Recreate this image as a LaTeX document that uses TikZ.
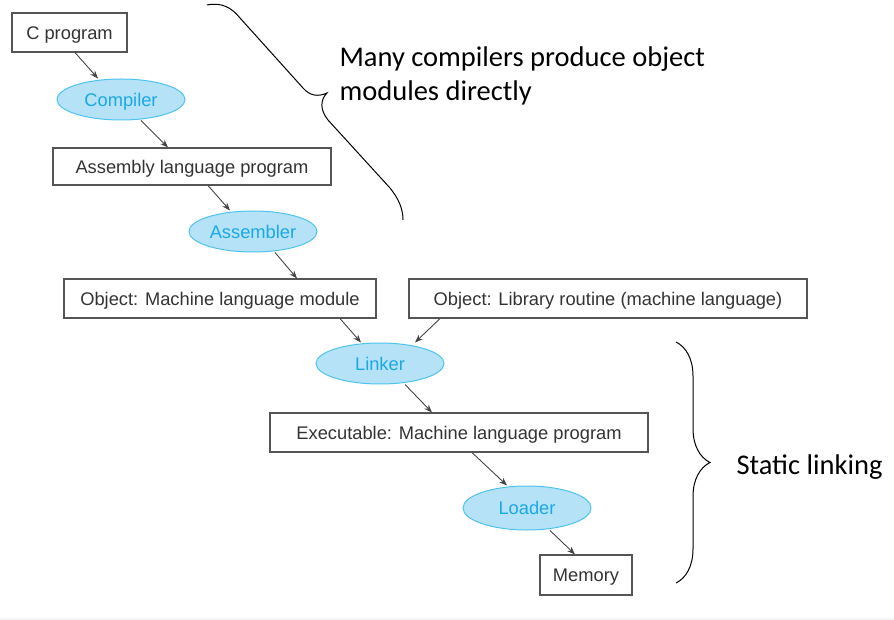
\documentclass[tikz,border=0pt]{standalone}
\usepackage{fontspec}
\setmainfont{Liberation Sans}
\newfontfamily\notefont{Carlito}
\usetikzlibrary{arrows.meta,shapes.geometric,decorations.pathreplacing}
\definecolor{boxline}{HTML}{555555}
\definecolor{boxtext}{HTML}{333333}
\definecolor{stepfill}{HTML}{B5E2F7}
\definecolor{stepline}{HTML}{4FC3F0}
\definecolor{steptext}{HTML}{1BA8E6}
\definecolor{arrowcol}{HTML}{444444}

\begin{document}
\begin{tikzpicture}[x=1pt,y=-1pt,
  every edge/.style={draw,arrowcol,line width=0.9pt,-{Stealth[length=8pt,width=6pt]}},
  file node/.style={draw=boxline,line width=1.1pt,text=boxtext,inner sep=0pt,
    text height=13.1pt,text depth=0pt,font=\fontsize{18.3}{22}\selectfont},
  tool node/.style={draw=stepline,fill=stepfill,line width=1pt,ellipse,inner sep=0pt,
    text height=13.1pt,text depth=0pt,
    minimum width=128pt,minimum height=41pt,text=steptext,font=\fontsize{18.3}{22}\selectfont},
  note/.style={anchor=west,align=left,font=\notefont\fontsize{28.5}{34}\selectfont}]
\useasboundingbox (0,0) rectangle (894,620);
\fill[black!4] (0,618) rectangle (894,620);

\node[file node,minimum width=115pt,minimum height=39pt] (cprog) at (69.5,32.5) {C program};
\node[tool node] (comp) at (121,99.5) {Compiler};
\node[file node,minimum width=278pt,minimum height=37pt] (asm) at (192,166.5) {Assembly language program};
\node[tool node] (asmr) at (253,231.5) {Assembler};
\node[file node,minimum width=312pt,minimum height=39pt] (objml) at (220,298.5) {Object: Machine language module};
\node[file node,minimum width=398pt,minimum height=39pt] (objlib) at (608,298.5) {Object: Library routine (machine language)};
\node[tool node] (link) at (380,363.5) {Linker};
\node[file node,minimum width=378pt,minimum height=39pt] (exe) at (459,432.5) {Executable: Machine language program};
\node[tool node,minimum height=44pt] (load) at (527,508) {Loader};
\node[file node,minimum width=92pt,minimum height=40pt] (mem) at (586,575) {Memory};

\path
([xshift=5.5pt]cprog.south) edge ([xshift=-23pt]comp.north)
([xshift=20pt]comp.south) edge ([xshift=-24pt]asm.north)
([xshift=16pt]asm.south) edge ([xshift=-23pt]asmr.north)
([xshift=22pt]asmr.south) edge ([xshift=77pt]objml.north)
([xshift=120pt]objml.south) edge ([xshift=-19pt]link.north)
([xshift=-168pt]objlib.south) edge ([xshift=35pt]link.north)
([xshift=25pt]link.south) edge ([xshift=-27pt]exe.north)
([xshift=13pt]exe.south) edge ([xshift=-20pt]load.north)
([xshift=23pt]load.south) edge ([xshift=-11pt]mem.north);

% braces
\coordinate (tip1) at (327,93);
\draw[line width=1pt] (207,5) .. controls (222,2) and (232,8) .. (240,18) -- (303,88)
  .. controls (310,96) and (318,97) .. (tip1)
  .. controls (320,100) and (320,110) .. (328,120) -- (390,188)
  .. controls (398,198) and (403,208) .. (403,220);
\draw[line width=1pt,decorate,decoration={brace,amplitude=34pt}] (676,342) -- (676,583);

\node[note] (many) at (336,75.5) {Many compilers produce object\\modules directly};
\node[note] (static) at (733,467) {Static linking};
\end{tikzpicture}
\end{document}
